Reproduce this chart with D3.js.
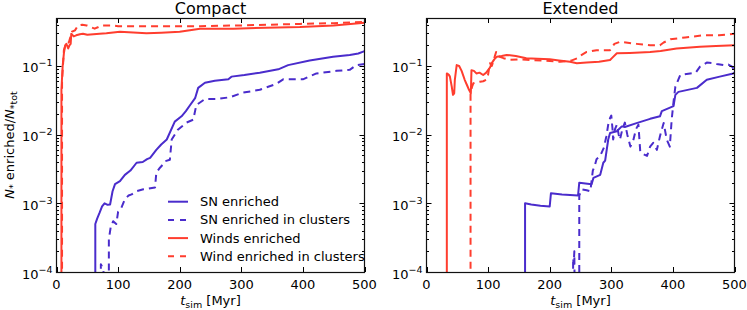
<!DOCTYPE html>
<html>
<head>
<meta charset="utf-8">
<script src="https://cdn.jsdelivr.net/npm/d3@7"></script>
<style>
  body { margin: 0; background: #fff; }
  svg { display: block; font-family: "DejaVu Sans", sans-serif; }
</style>
</head>
<body>
<div id="viz"></div>
<script>
// time [Myr], fraction of enriched stars
var compactSN = [[63,1e-5],[63,5e-4],[66,6e-4],[70,7.3e-4],[74,9e-4],[78,1e-3],[83,9.5e-4],[87,9.6e-4],[91,1.5e-3],[95,1.9e-3],[103,2.1e-3],[111,2.6e-3],[120,3.0e-3],[130,3.9e-3],[140,4.0e-3],[147,4.4e-3],[152,4.6e-3],[162,6e-3],[170,7.2e-3],[179,8.5e-3],[192,1.55e-2],[203,1.85e-2],[210,2.2e-2],[217,2.7e-2],[225,3.4e-2],[230,4.8e-2],[241,5.7e-2],[257,6.1e-2],[279,6.4e-2],[284,7e-2],[305,7.4e-2],[330,8e-2],[360,8.95e-2],[376,0.103],[411,0.12],[449,0.136],[476,0.145],[490,0.152],[500,0.165]];
var compactSNClusters = [[72,5e-5],[72,1.3e-4],[76,1.1e-4],[78,5e-5],[85,5e-5],[85,3e-4],[88,4.5e-4],[92,5.5e-4],[97,5e-4],[100,7.5e-4],[105,8.5e-4],[111,1.15e-3],[117,1.3e-3],[122,1.35e-3],[130,1.5e-3],[141,1.6e-3],[150,1.65e-3],[160,1.7e-3],[162,2.8e-3],[168,3.3e-3],[173,3.7e-3],[176,4.1e-3],[184,4.3e-3],[187,8.5e-3],[197,1.18e-2],[205,1.35e-2],[211,1.5e-2],[222,1.65e-2],[227,2.7e-2],[241,3.3e-2],[260,3.3e-2],[281,3.5e-2],[303,4.1e-2],[330,4.5e-2],[357,5.5e-2],[368,6.4e-2],[400,6.4e-2],[422,7.8e-2],[455,8.5e-2],[476,8.8e-2],[487,0.103],[500,0.107]];
var compactWinds = [[8,1e-5],[8,0.045],[10,0.1],[12,0.153],[14,0.2],[16,0.21],[19,0.18],[21,0.2],[23,0.21],[24,0.295],[28,0.27],[32,0.28],[38,0.29],[43,0.295],[50,0.285],[60,0.29],[70,0.295],[81,0.30],[103,0.315],[146,0.30],[170,0.305],[200,0.315],[233,0.35],[287,0.35],[340,0.36],[395,0.37],[450,0.39],[500,0.425]];
var compactWindsClusters = [[9,1e-5],[9,0.06],[12,0.17],[16,0.22],[20,0.22],[25,0.315],[30,0.33],[35,0.39],[42,0.4],[49,0.39],[55,0.37],[62,0.35],[68,0.37],[73,0.39],[92,0.39],[100,0.38],[125,0.38],[233,0.38],[300,0.39],[395,0.41],[450,0.42],[500,0.44]];

var extendedSN = [[160,1e-5],[160,1e-3],[170,9.6e-4],[185,9.2e-4],[200,9e-4],[202,1.4e-3],[220,1.35e-3],[246,1.3e-3],[248,2e-3],[268,1.9e-3],[271,2.35e-3],[282,2.6e-3],[287,3.9e-3],[290,4.2e-3],[295,8.5e-3],[298,1.06e-2],[309,1.12e-2],[317,1.32e-2],[322,1.29e-2],[341,1.47e-2],[363,1.7e-2],[379,1.85e-2],[382,2.2e-2],[401,2.6e-2],[404,3.8e-2],[409,4.2e-2],[439,4.8e-2],[455,6.3e-2],[476,7e-2],[498,7.8e-2],[500,8e-2]];
var extendedSNClusters = [[238,1e-5],[238,1.6e-4],[239,1.3e-4],[240,2e-4],[241,1e-5],[248,1e-5],[248,1.3e-3],[252,1.6e-3],[260,1.55e-3],[266,1.5e-3],[270,3e-3],[273,3.5e-3],[276,4.4e-3],[282,4.9e-3],[288,6.5e-3],[292,9.5e-3],[295,1.4e-2],[298,1.75e-2],[300,1.9e-2],[302,1.2e-2],[303,8.5e-3],[306,1.2e-2],[309,1.4e-2],[312,1e-2],[314,8.5e-3],[318,1.2e-2],[322,1.5e-2],[326,1e-2],[331,6.7e-3],[336,8.5e-3],[340,1.2e-2],[344,1.4e-2],[347,5.7e-3],[352,5.2e-3],[358,4.9e-3],[363,6.7e-3],[368,7.6e-3],[374,6e-3],[379,9.5e-3],[385,1.48e-2],[390,8.5e-3],[395,6.7e-3],[398,1.65e-2],[401,3e-2],[404,5e-2],[412,7.4e-2],[428,7.8e-2],[437,8e-2],[444,9.8e-2],[455,0.112],[465,0.11],[471,0.107],[482,0.103],[490,0.105],[496,0.098],[500,0.087]];
var extendedWinds = [[33,1e-5],[33,0.078],[36,0.075],[38,0.07],[41,0.05],[43,0.038],[45,0.04],[46,0.063],[49,0.103],[53,0.1],[57,0.085],[62,0.063],[66,0.052],[69,0.045],[72,0.04],[73,0.087],[77,0.085],[81,0.078],[86,0.08],[92,0.074],[97,0.08],[100,0.0875],[103,0.095],[106,0.11],[110,0.125],[114,0.136],[122,0.14],[130,0.145],[145,0.14],[162,0.13],[180,0.128],[200,0.125],[215,0.12],[233,0.115],[244,0.11],[260,0.112],[280,0.115],[298,0.122],[301,0.13],[309,0.153],[330,0.155],[363,0.16],[380,0.165],[406,0.18],[444,0.19],[470,0.195],[500,0.2]];
var extendedWindsClusters = [[71.5,1e-5],[71.5,0.04],[74,0.05],[76,0.056],[82,0.058],[87,0.059],[92,0.06],[97,0.063],[100,0.075],[103,0.11],[106,0.1],[110,0.13],[113,0.16],[116,0.14],[119,0.136],[125,0.13],[135,0.123],[150,0.125],[162,0.123],[190,0.12],[217,0.115],[235,0.12],[245,0.13],[252,0.145],[260,0.16],[276,0.17],[298,0.17],[305,0.21],[314,0.225],[341,0.21],[363,0.2],[379,0.2],[385,0.22],[396,0.245],[420,0.26],[450,0.28],[475,0.28],[500,0.295]];

var panelTitles = ["Compact", "Extended"];
var legendLabels = ["SN enriched", "SN enriched in clusters", "Winds enriched", "Wind enriched in clusters"];
var xTicks = [0, 100, 200, 300, 400, 500];
var yTicks = [1e-4, 1e-3, 1e-2, 1e-1];
var yTickExp = ["\u22124", "\u22123", "\u22122", "\u22121"];

var red = "#ff3d2e", blue = "#4a2ccc";
var styles = [
  {color: blue, dash: null},
  {color: blue, dash: "7,5"},
  {color: red, dash: null},
  {color: red, dash: "7,5"}
];

var W = 747, H = 310;
var plotTop = 18, plotBottom = 272;
var panels = [
  {left: 56.5, right: 364.5, series: [compactSN, compactSNClusters, compactWinds, compactWindsClusters]},
  {left: 426.5, right: 734.5, series: [extendedSN, extendedSNClusters, extendedWinds, extendedWindsClusters]}
];

var svg = d3.select("#viz").append("svg").attr("width", W).attr("height", H);

var y = d3.scaleLog().domain([1e-4, 0.5]).range([plotBottom, plotTop]);
var minorY = y.ticks().filter(function (v) { return yTicks.indexOf(v) < 0; })
  .concat([0.2, 0.3, 0.4]).filter(function (v) { return v > 1e-4 && v < 0.5; });

panels.forEach(function (p, i) {
  var x = d3.scaleLinear().domain([0, 500]).range([p.left, p.right]);
  var g = svg.append("g");

  g.append("clipPath").attr("id", "clip" + i)
    .append("rect").attr("x", p.left).attr("y", plotTop)
    .attr("width", p.right - p.left).attr("height", plotBottom - plotTop);

  var line = d3.line().x(function (d) { return x(d[0]); }).y(function (d) { return y(d[1]); });

  var lines = g.append("g").attr("clip-path", "url(#clip" + i + ")");
  // draw winds first so SN lines sit on top
  [2, 3, 0, 1].forEach(function (k) {
    lines.append("path").datum(p.series[k])
      .attr("d", line)
      .attr("fill", "none")
      .attr("stroke", styles[k].color)
      .attr("stroke-width", 2)
      .attr("stroke-dasharray", styles[k].dash)
      .attr("stroke-linejoin", "round");
  });

  // ticks (inside, on all four sides)
  var ax = g.append("g").attr("stroke", "#000").attr("stroke-width", 1);
  xTicks.forEach(function (t) {
    var xx = Math.round(x(t)) + 0.5;
    ax.append("line").attr("x1", xx).attr("x2", xx).attr("y1", plotBottom).attr("y2", plotBottom - 5);
    ax.append("line").attr("x1", xx).attr("x2", xx).attr("y1", plotTop).attr("y2", plotTop + 5);
  });
  yTicks.forEach(function (t) {
    var yy = Math.round(y(t)) + 0.5;
    ax.append("line").attr("x1", p.left).attr("x2", p.left + 5).attr("y1", yy).attr("y2", yy);
    ax.append("line").attr("x1", p.right).attr("x2", p.right - 5).attr("y1", yy).attr("y2", yy);
  });
  minorY.forEach(function (t) {
    var yy = Math.round(y(t)) + 0.5;
    ax.append("line").attr("x1", p.left).attr("x2", p.left + 2.5).attr("y1", yy).attr("y2", yy);
    ax.append("line").attr("x1", p.right).attr("x2", p.right - 2.5).attr("y1", yy).attr("y2", yy);
  });

  g.append("rect").attr("x", p.left).attr("y", plotTop + 0.5)
    .attr("width", p.right - p.left).attr("height", plotBottom - plotTop)
    .attr("fill", "none").attr("stroke", "#111").attr("stroke-width", 1.2);

  // tick labels
  xTicks.forEach(function (t) {
    g.append("text").attr("x", x(t)).attr("y", 288.5)
      .attr("text-anchor", "middle").attr("font-size", 13).text(t);
  });
  yTicks.forEach(function (t, j) {
    var tx = g.append("text").attr("x", p.left - 4).attr("y", y(t) + 6.5)
      .attr("text-anchor", "end").attr("font-size", 13);
    tx.append("tspan").text("10");
    tx.append("tspan").attr("font-size", 9.5).attr("dy", -6).text(yTickExp[j]);
  });

  // title
  g.append("text").attr("x", (p.left + p.right) / 2).attr("y", 14)
    .attr("text-anchor", "middle").attr("font-size", 16).text(panelTitles[i]);

  // x label
  var xl = g.append("text").attr("x", (p.left + p.right) / 2).attr("y", 305)
    .attr("text-anchor", "middle").attr("font-size", 13);
  xl.append("tspan").attr("font-style", "italic").text("t");
  xl.append("tspan").attr("font-size", 9.5).attr("dy", 3).text("sim");
  xl.append("tspan").attr("dy", -3).text(" [Myr]");
});

// y label
var yl = svg.append("text").attr("transform", "translate(13.5,145) rotate(-90)")
  .attr("text-anchor", "middle").attr("font-size", 13);
yl.append("tspan").attr("font-style", "italic").text("N");
yl.append("tspan").attr("font-size", 9.5).attr("dy", 2).text("*");
yl.append("tspan").attr("dy", -2).text(" enriched/");
yl.append("tspan").attr("font-style", "italic").text("N");
yl.append("tspan").attr("font-size", 9.5).attr("dy", 3).text("*tot");

// legend (left panel, no frame)
var legend = svg.append("g");
legendLabels.forEach(function (label, k) {
  var ly = 201.7 + k * 18.2;
  legend.append("line").attr("x1", 168).attr("x2", 188).attr("y1", ly).attr("y2", ly)
    .attr("stroke", styles[k].color).attr("stroke-width", 2)
    .attr("stroke-dasharray", styles[k].dash ? "6,6" : null);
  legend.append("text").attr("x", 200).attr("y", ly + 4.5)
    .attr("font-size", 13).text(label);
});
</script>
</body>
</html>
